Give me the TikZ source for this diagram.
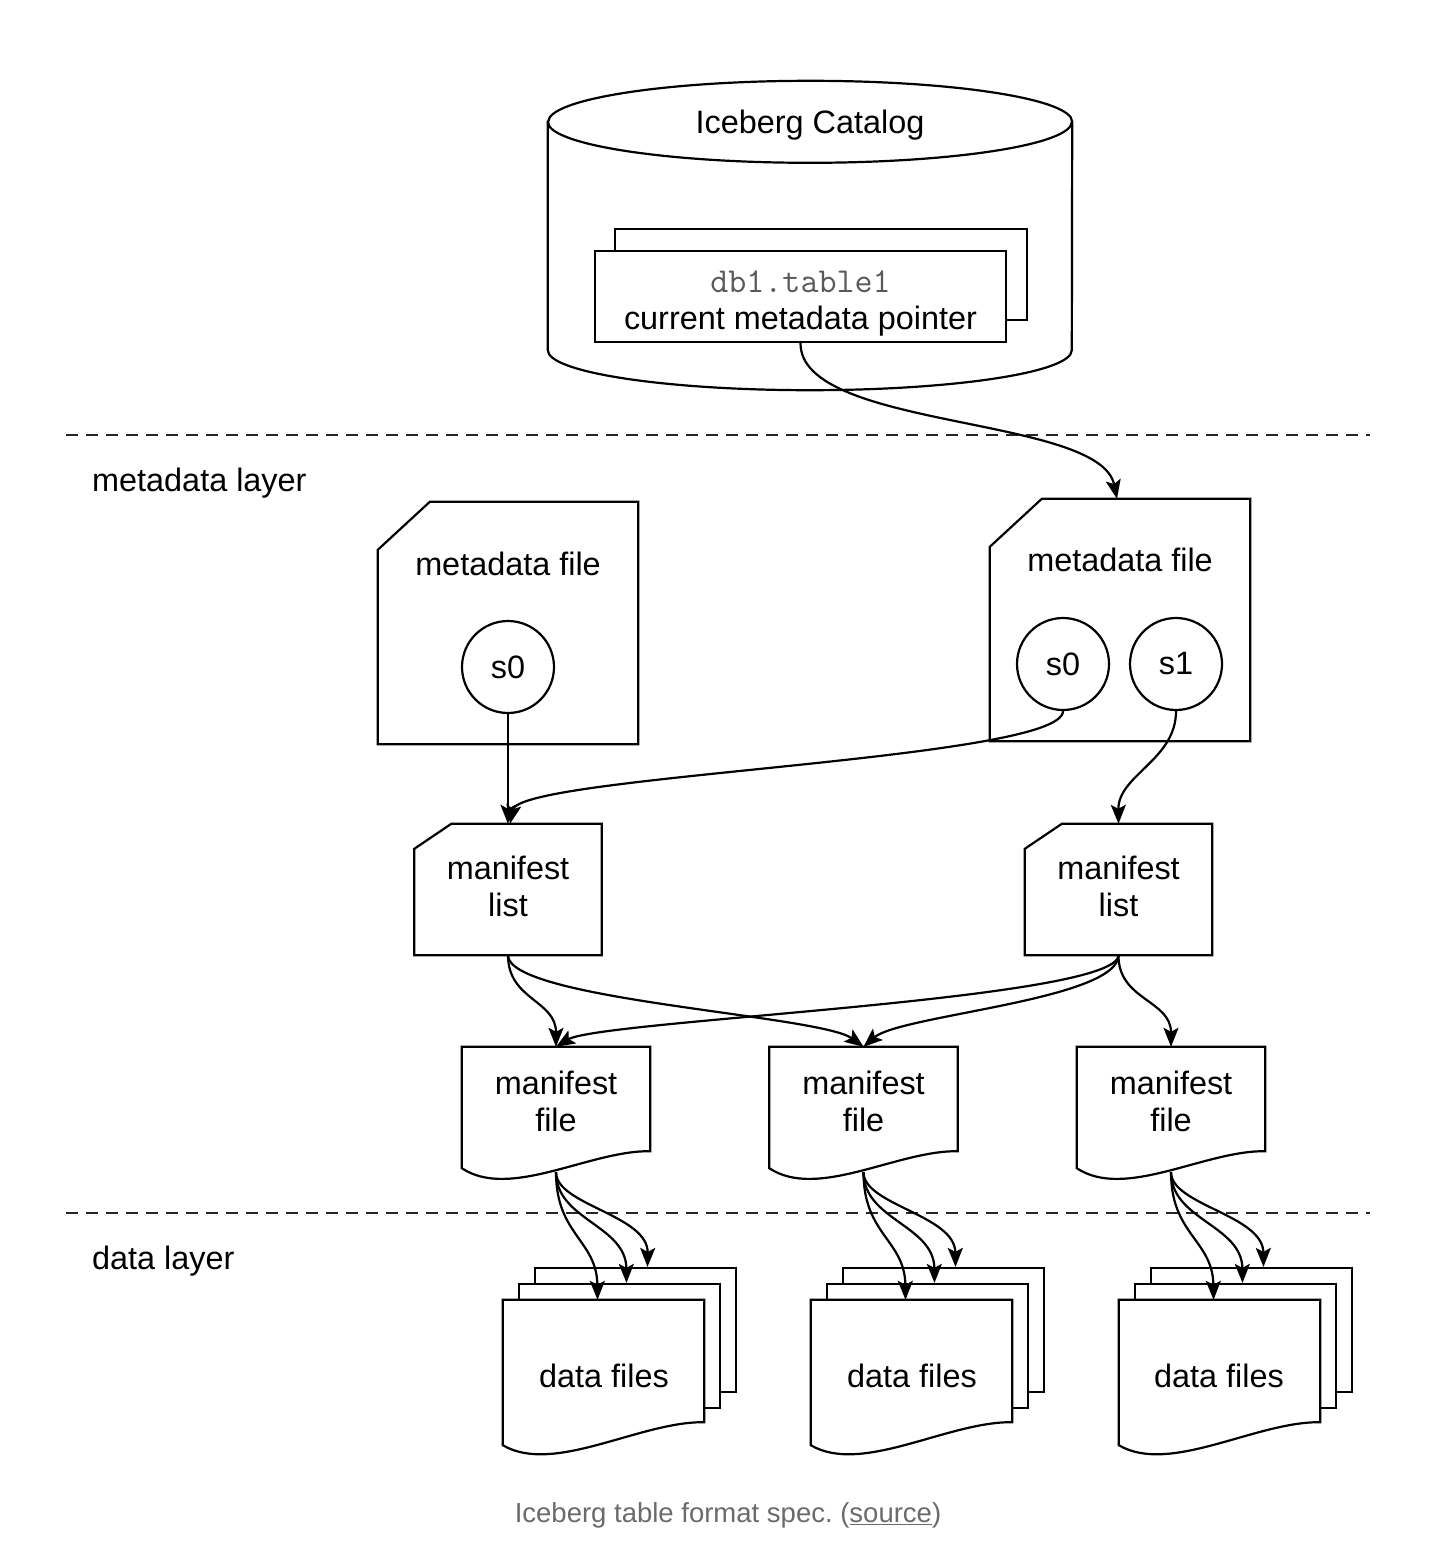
\documentclass[tikz,border=0pt]{standalone}
\usepackage{fontspec}
\setmainfont{Liberation Sans}
\usetikzlibrary{arrows.meta}

\begin{document}
\begin{tikzpicture}[
    x=1pt, y=-1pt,
    txt/.style={font=\fontsize{32.4}{37}\selectfont, align=center, inner sep=0pt},
    frame/.style={inner sep=0pt},
    filebox/.style={draw=black, line width=2.2pt, fill=white},
    sheet/.style={filebox, inner sep=0pt, minimum width=201pt, minimum height=124pt},
    snap/.style={circle, filebox, minimum size=92pt, txt},
    link/.style={-{Stealth[length=19pt, width=15pt, inset=4pt]}, line width=2.2pt},
    layerline/.style={draw=black!85, line width=2.2pt, dash pattern=on 12pt off 8pt}
]
\path[use as bounding box, fill=white] (0,0) rectangle (1434,1554);

% catalog cylinder
\node[frame, minimum width=524pt, minimum height=228pt] (catalog) at (810,236) {};
\draw[filebox] (catalog.north west) -- (catalog.south west)
    arc[start angle=180, end angle=360, x radius=262pt, y radius=40pt]
    -- (catalog.north east)
    arc[start angle=0, end angle=180, x radius=262pt, y radius=41pt] -- cycle;
\draw[filebox, fill=none] (catalog.north west) arc[start angle=180, end angle=360, x radius=262pt, y radius=41pt];
\node[txt] (catalogt) at (810,125) {Iceberg Catalog};
\node[sheet, minimum width=412pt, minimum height=91pt] (ptrback) at (821,274.5) {};
\node[sheet, minimum width=411pt, minimum height=91pt] (pointer) at (800.5,296.5) {};
\node[txt] (pointert) at (800.5,303) {%
  {\fontsize{35}{37}\ttfamily\color{black!65}db1.table1}\\current metadata pointer};

% layers
\draw[layerline] (66,435) -- (1370,435);
\draw[layerline] (66,1213) -- (1370,1213);
\node[txt, anchor=west] (metalayer) at (92,483) {metadata layer};
\node[txt, anchor=west] (datalayer) at (92,1261) {data layer};

% metadata files
\node[frame, minimum width=260pt, minimum height=242pt] (meta1) at (508,623) {};
\draw[filebox] ([shift={(0,48)}]meta1.north west) -- ([shift={(52,0)}]meta1.north west)
    -- (meta1.north east) -- (meta1.south east) -- (meta1.south west) -- cycle;
\node[txt] (meta1t) at (508,564) {metadata file};
\node[snap] (snap1) at (508,667) {s0};

\node[frame, minimum width=260pt, minimum height=242pt] (meta2) at (1120,620) {};
\draw[filebox] ([shift={(0,48)}]meta2.north west) -- ([shift={(52,0)}]meta2.north west)
    -- (meta2.north east) -- (meta2.south east) -- (meta2.south west) -- cycle;
\node[txt] (meta2t) at (1120,560) {metadata file};
\node[snap] (snap2) at (1063,664) {s0};
\node[snap] (snap3) at (1176,664) {s1};

% manifest lists
\node[frame, minimum width=187pt, minimum height=131pt] (mlist1) at (508,889.5) {};
\draw[filebox] ([shift={(0,25)}]mlist1.north west) -- ([shift={(37,0)}]mlist1.north west)
    -- (mlist1.north east) -- (mlist1.south east) -- (mlist1.south west) -- cycle;
\node[txt] (mlist1t) at (508,886) {manifest\\list};

\node[frame, minimum width=187pt, minimum height=131pt] (mlist2) at (1118.5,889.5) {};
\draw[filebox] ([shift={(0,25)}]mlist2.north west) -- ([shift={(37,0)}]mlist2.north west)
    -- (mlist2.north east) -- (mlist2.south east) -- (mlist2.south west) -- cycle;
\node[txt] (mlist2t) at (1118.5,886) {manifest\\list};

% manifest files
\node[frame, minimum width=188pt, minimum height=121pt] (mfile1) at (556,1107.5) {};
\draw[filebox] (mfile1.north west) -- (mfile1.north east) -- ([shift={(0,-17)}]mfile1.south east)
    .. controls ([shift={(-60,-18)}]mfile1.south east) and ([shift={(48,32)}]mfile1.south west) .. (mfile1.south west) -- cycle;
\node[txt] (mfile1t) at (556,1101) {manifest\\file};

\node[frame, minimum width=188pt, minimum height=121pt] (mfile2) at (863.5,1107.5) {};
\draw[filebox] (mfile2.north west) -- (mfile2.north east) -- ([shift={(0,-17)}]mfile2.south east)
    .. controls ([shift={(-60,-18)}]mfile2.south east) and ([shift={(48,32)}]mfile2.south west) .. (mfile2.south west) -- cycle;
\node[txt] (mfile2t) at (863.5,1101) {manifest\\file};

\node[frame, minimum width=188pt, minimum height=121pt] (mfile3) at (1171,1107.5) {};
\draw[filebox] (mfile3.north west) -- (mfile3.north east) -- ([shift={(0,-17)}]mfile3.south east)
    .. controls ([shift={(-60,-18)}]mfile3.south east) and ([shift={(48,32)}]mfile3.south west) .. (mfile3.south west) -- cycle;
\node[txt] (mfile3t) at (1171,1101) {manifest\\file};

% data files
\node[sheet] (data1c) at (635.5,1330) {};
\node[sheet] (data1b) at (619.5,1346) {};
\node[frame, minimum width=201pt, minimum height=145pt] (data1) at (603.5,1372.5) {};
\draw[filebox] (data1.north west) -- (data1.north east) -- ([shift={(0,-23)}]data1.south east)
    .. controls ([shift={(-64,-24)}]data1.south east) and ([shift={(51,30)}]data1.south west) .. (data1.south west) -- cycle;
\node[txt] (data1t) at (604,1376) {data files};

\node[sheet] (data2c) at (943.5,1330) {};
\node[sheet] (data2b) at (927.5,1346) {};
\node[frame, minimum width=201pt, minimum height=145pt] (data2) at (911.5,1372.5) {};
\draw[filebox] (data2.north west) -- (data2.north east) -- ([shift={(0,-23)}]data2.south east)
    .. controls ([shift={(-64,-24)}]data2.south east) and ([shift={(51,30)}]data2.south west) .. (data2.south west) -- cycle;
\node[txt] (data2t) at (912,1376) {data files};

\node[sheet] (data3c) at (1251.5,1330) {};
\node[sheet] (data3b) at (1235.5,1346) {};
\node[frame, minimum width=201pt, minimum height=145pt] (data3) at (1219.5,1372.5) {};
\draw[filebox] (data3.north west) -- (data3.north east) -- ([shift={(0,-23)}]data3.south east)
    .. controls ([shift={(-64,-24)}]data3.south east) and ([shift={(51,30)}]data3.south west) .. (data3.south west) -- cycle;
\node[txt] (data3t) at (1219,1376) {data files};

% connectors
\draw[link] (pointer.south) .. controls (800,430) and (1100,415) .. ([xshift=-3pt]meta2.north);
\draw[link] (snap1.south) -- (mlist1.north);
\draw[link] (snap2.south) .. controls (1063,760) and (520,775) .. ([xshift=2pt]mlist1.north);
\draw[link] (snap3.south) .. controls (1176,760) and (1118,775) .. (mlist2.north);
\draw[link] (mlist1.south) .. controls (508,1000) and (556,1000) .. (mfile1.north);
\draw[link] (mlist1.south) .. controls (508,1000) and (820,1015) .. (mfile2.north);
\draw[link] (mlist2.south) .. controls (1118,1000) and (600,1020) .. (mfile1.north);
\draw[link] (mlist2.south) .. controls (1118,1000) and (900,1015) .. (mfile2.north);
\draw[link] (mlist2.south) .. controls (1118,1000) and (1171,1000) .. (mfile3.north);

\draw[link] ([yshift=-4pt]mfile1.south) .. controls (556,1235) and (597,1240) .. ([xshift=-6pt]data1.north);
\draw[link] ([yshift=-4pt]mfile1.south) .. controls (556,1220) and (626,1225) .. ([xshift=7pt]data1b.north);
\draw[link] ([yshift=-4pt]mfile1.south) .. controls (556,1205) and (648,1215) .. ([xshift=12pt]data1c.north);
\draw[link] ([yshift=-4pt]mfile2.south) .. controls (863.5,1235) and (905,1240) .. ([xshift=-6pt]data2.north);
\draw[link] ([yshift=-4pt]mfile2.south) .. controls (863.5,1220) and (934,1225) .. ([xshift=7pt]data2b.north);
\draw[link] ([yshift=-4pt]mfile2.south) .. controls (863.5,1205) and (955,1215) .. ([xshift=12pt]data2c.north);
\draw[link] ([yshift=-4pt]mfile3.south) .. controls (1171,1235) and (1213,1240) .. ([xshift=-6pt]data3.north);
\draw[link] ([yshift=-4pt]mfile3.south) .. controls (1171,1220) and (1242,1225) .. ([xshift=7pt]data3b.north);
\draw[link] ([yshift=-4pt]mfile3.south) .. controls (1171,1205) and (1263,1215) .. ([xshift=12pt]data3c.north);

% caption
\node[font=\fontsize{27.5}{33}\selectfont, text=black!58] (caption) at (728,1515) {Iceberg table format spec.\ (\underline{source})};
\end{tikzpicture}
\end{document}
